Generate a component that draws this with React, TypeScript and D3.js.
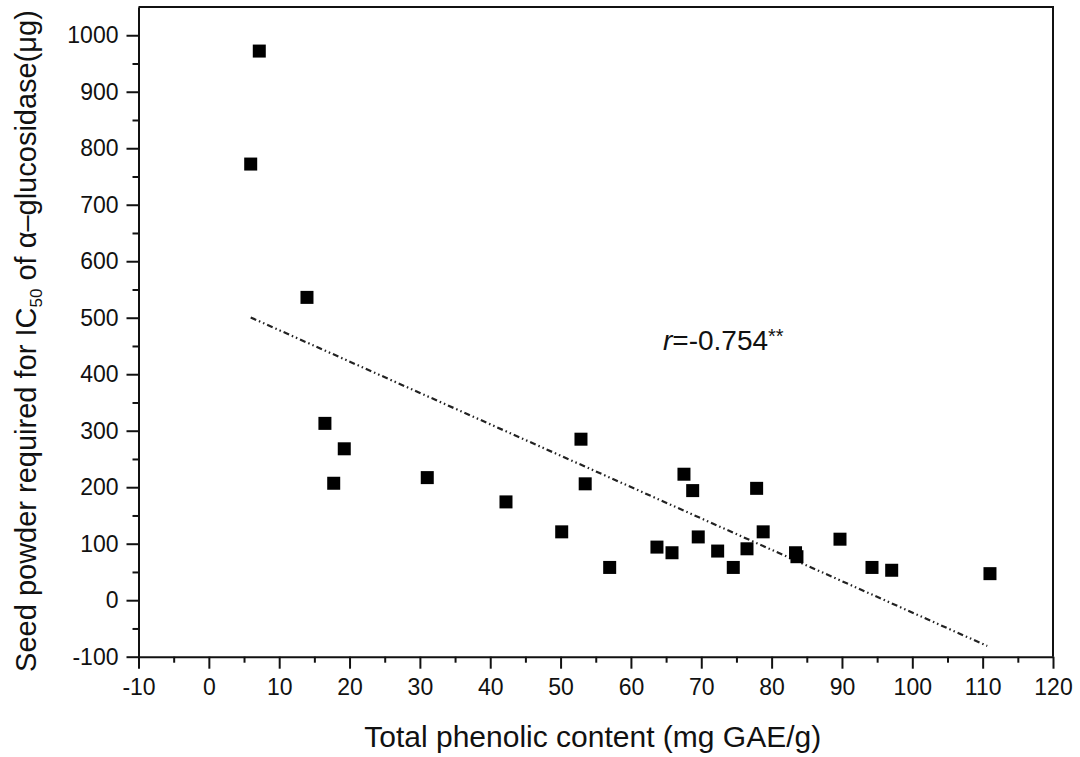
import { useEffect, useRef } from "react";
import * as d3 from "d3";

// total phenolic content (mg GAE/g)
const phenolic = [
  5.95, 7.17, 13.95, 16.5, 17.75, 19.25, 31.05, 42.24, 50.16, 52.9, 53.5, 56.98,
  63.7, 65.84, 67.54, 68.78, 69.57, 72.33, 74.55, 76.5, 77.87, 78.8, 83.4, 83.6,
  89.72, 94.27, 97.07, 111.04,
];
// seed powder required for IC50 (µg)
const ic50 = [
  772, 972, 536, 313, 207, 268, 217, 174, 121, 285, 206, 58,
  94, 84, 223, 194, 112, 87, 58, 91, 198, 121, 84, 77,
  108, 58, 53, 47,
];
// regression line ends
const fitX = [5.95, 110.65];
const fitY = [500.5, -81];

const xTicks = d3.range(-10, 121, 10);
const xMinor = d3.range(-5, 120, 10);
const yTicks = d3.range(-100, 1001, 100);
const yMinor = d3.range(-50, 1001, 100);

const W = 1080;
const H = 757;
const margin = { left: 138.5, right: 27, top: 7, bottom: 100.3 };
const FONT = "'Liberation Sans', Arial, Helvetica, sans-serif";

export default function App() {
  const svgRef = useRef<SVGSVGElement>(null);

  useEffect(() => {
    const svg = d3.select(svgRef.current);
    svg.selectAll("*").remove();

    const iw = W - margin.left - margin.right;
    const ih = H - margin.top - margin.bottom;

    const x = d3.scaleLinear().domain([-10, 120]).range([0, iw]);
    const y = d3.scaleLinear().domain([-100, 1050]).range([ih, 0]);
    const fmt = (d: any) => String(d);

    const g = svg
      .append("g")
      .attr("transform", `translate(${margin.left},${margin.top})`);

    // frame (top + right, no ticks)
    g.append("path")
      .attr("d", `M0,0H${iw}V${ih}`)
      .attr("fill", "none")
      .attr("stroke", "#111")
      .attr("stroke-width", 2);

    // minor ticks
    g.append("g")
      .attr("transform", `translate(0,${ih})`)
      .call(d3.axisBottom(x).tickValues(xMinor).tickSize(6).tickFormat(() => "").tickSizeOuter(0))
      .call((a) => a.select(".domain").remove())
      .selectAll("line")
      .attr("stroke", "#111")
      .attr("stroke-width", 2);
    g.append("g")
      .call(d3.axisLeft(y).tickValues(yMinor).tickSize(6).tickFormat(() => "").tickSizeOuter(0))
      .call((a) => a.select(".domain").remove())
      .selectAll("line")
      .attr("stroke", "#111")
      .attr("stroke-width", 2);

    // x axis
    const xa = g
      .append("g")
      .attr("transform", `translate(0,${ih})`)
      .call(d3.axisBottom(x).tickValues(xTicks).tickFormat(fmt).tickSize(12).tickSizeOuter(0).tickPadding(10));
    xa.select(".domain").attr("stroke", "#111").attr("stroke-width", 2);
    xa.selectAll("line").attr("stroke", "#111").attr("stroke-width", 2);
    xa.selectAll("text")
      .attr("fill", "#111")
      .style("font-family", FONT)
      .style("font-size", "23px");

    // y axis
    const ya = g
      .append("g")
      .call(d3.axisLeft(y).tickValues(yTicks).tickFormat(fmt).tickSize(12).tickSizeOuter(0).tickPadding(8));
    ya.select(".domain").attr("stroke", "#111").attr("stroke-width", 2);
    ya.selectAll("line").attr("stroke", "#111").attr("stroke-width", 2);
    ya.selectAll("text")
      .attr("fill", "#111")
      .style("font-family", FONT)
      .style("font-size", "23px");

    // fit line
    g.append("line")
      .attr("x1", x(fitX[0]))
      .attr("y1", y(fitY[0]))
      .attr("x2", x(fitX[1]))
      .attr("y2", y(fitY[1]))
      .attr("stroke", "#222")
      .attr("stroke-width", 2.2)
      .attr("stroke-dasharray", "6,3,1.5,3,1.5,3");

    // points
    const pts = phenolic.map((p, i) => ({ p, v: ic50[i] }));
    const s = 13;
    g.selectAll("rect.pt")
      .data(pts)
      .enter()
      .append("rect")
      .attr("class", "pt")
      .attr("x", (d) => x(d.p) - s / 2)
      .attr("y", (d) => y(d.v) - s / 2)
      .attr("width", s)
      .attr("height", s)
      .attr("fill", "#000");

    // r annotation
    const t = g
      .append("text")
      .attr("x", x(62) + 18)
      .attr("y", y(443))
      .attr("fill", "#111")
      .style("font-family", FONT)
      .style("font-size", "28px");
    t.append("tspan").style("font-style", "italic").text("r");
    t.append("tspan").text("=-0.754");
    t.append("tspan").attr("dy", -7).style("font-size", "20px").text("**");

    // axis titles
    svg
      .append("text")
      .attr("x", margin.left + iw / 2 - 3)
      .attr("y", 747)
      .attr("text-anchor", "middle")
      .attr("fill", "#111")
      .style("font-family", FONT)
      .style("font-size", "30px")
      .text("Total phenolic content (mg GAE/g)");

    const yt = svg
      .append("text")
      .attr("transform", "translate(36,341) rotate(-90)")
      .attr("text-anchor", "middle")
      .attr("fill", "#111")
      .style("font-family", FONT)
      .style("font-size", "29px");
    yt.append("tspan").text("Seed powder required for IC");
    yt.append("tspan").attr("dy", 6).style("font-size", "17px").text("50");
    yt.append("tspan").attr("dy", -6).text(" of \u03b1\u2013glucosidase(\u03bcg)");
  }, []);

  return (
    <svg
      ref={svgRef}
      width={W}
      height={H}
      style={{ position: "absolute", left: 0, top: 0, background: "#fff" }}
    />
  );
}
